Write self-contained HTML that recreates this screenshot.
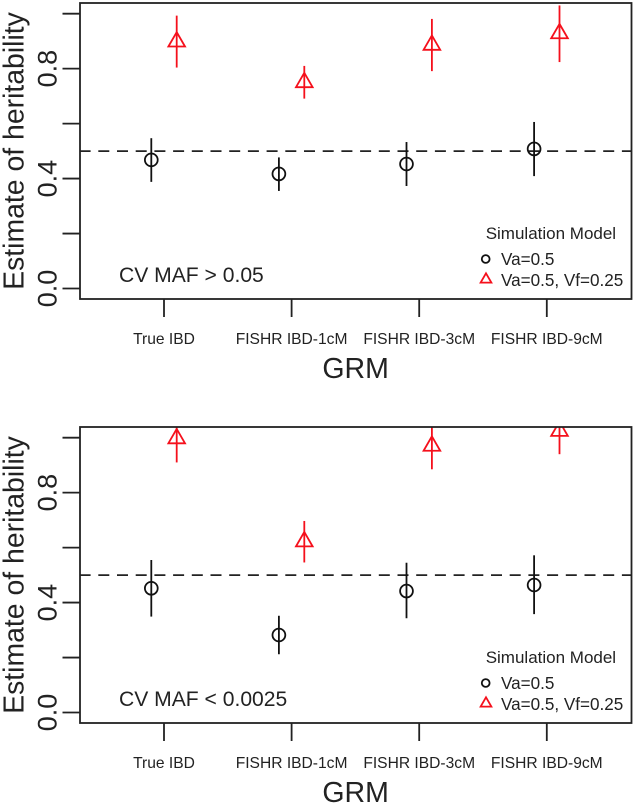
<!DOCTYPE html>
<html lang="en">
<head>
<meta charset="utf-8">
<title>Estimate of heritability by GRM</title>
<style>
html,body{margin:0;padding:0;background:#fff;width:634px;height:804px;overflow:hidden}
svg{display:block;font-family:"Liberation Sans",Arial,sans-serif}
text{fill:#222}
</style>
</head>
<body>
<svg id="chart" width="634" height="804" viewBox="0 0 634 804" xmlns="http://www.w3.org/2000/svg"></svg>
<script>
var categories = ["True IBD", "FISHR IBD-1cM", "FISHR IBD-3cM", "FISHR IBD-9cM"];
var yTickValues = [0, 0.2, 0.4, 0.6, 0.8, 1.0];
var yTickLabels = ["0.0", "", "0.4", "", "0.8", ""];
var referenceValue = 0.5;
var seriesNames = ["Va=0.5", "Va=0.5, Vf=0.25"];
var panelLabels = ["CV MAF > 0.05", "CV MAF < 0.0025"];

var panel1Va = [0.468, 0.417, 0.453, 0.508];
var panel1VaLower = [0.388, 0.355, 0.373, 0.409];
var panel1VaUpper = [0.547, 0.477, 0.533, 0.606];
var panel1VaVf = [0.898, 0.750, 0.886, 0.928];
var panel1VaVfLower = [0.804, 0.691, 0.791, 0.824];
var panel1VaVfUpper = [0.993, 0.810, 0.981, 1.030];

var panel2Va = [0.452, 0.282, 0.442, 0.464];
var panel2VaLower = [0.349, 0.212, 0.343, 0.358];
var panel2VaUpper = [0.555, 0.352, 0.545, 0.572];
var panel2VaVf = [0.997, 0.622, 0.970, 1.024];
var panel2VaVfLower = [0.910, 0.546, 0.885, 0.940];
var panel2VaVfUpper = [1.085, 0.697, 1.055, 1.108];

var NS = "http://www.w3.org/2000/svg";
var svg = document.getElementById("chart");
var INK = "#222";
var RED = "#f5101c";

function make(parent, tag, attrs, content) {
  var el = document.createElementNS(NS, tag);
  for (var k in attrs) { el.setAttribute(k, attrs[k]); }
  if (content !== undefined) { el.textContent = content; }
  parent.appendChild(el);
  return el;
}
function xScale(i, offset) { return 164 + 127.6 * i + offset; }
function yScale(v, dy) { return 288.5 + dy - 274.8 * v; }

function triPoints(cx, cy, r) {
  var xc = r * 0.866;
  return cx + "," + (cy - r) + " " + (cx + xc) + "," + (cy + r / 2) + " " + (cx - xc) + "," + (cy + r / 2);
}

function drawPanel(idx, dy, va, vaLo, vaHi, vf, vfLo, vfHi) {
  var g = make(svg, "g", {});
  
  

  var clipId = "plot-clip-" + idx;
  var defs = make(g, "defs", {});
  var clip = make(defs, "clipPath", { id: clipId });
  make(clip, "rect", { x: 80, y: 3 + dy, width: 551.5, height: 296 });

  var plot = make(g, "g", { "clip-path": "url(#" + clipId + ")" });
  
  

  var ref = make(plot, "line", {
    x1: 79.6, x2: 631.5, y1: yScale(referenceValue, dy), y2: yScale(referenceValue, dy),
    stroke: INK, "stroke-width": 1.8, "stroke-dasharray": "11 7.7"
  });
  
  

  for (var i = 0; i < categories.length; i++) {
    var bx = xScale(i, -12.7);
    var errA = make(plot, "line", { x1: bx, x2: bx, y1: yScale(vaLo[i], dy), y2: yScale(vaHi[i], dy), stroke: "#111", "stroke-width": 1.8 });
    
    
    var pointA = make(plot, "circle", { cx: bx, cy: yScale(va[i], dy), r: 6.4, fill: "none", stroke: "#111", "stroke-width": 1.8 });
    
    

    var rx = xScale(i, 12.7);
    var errB = make(plot, "line", { x1: rx, x2: rx, y1: yScale(vfLo[i], dy), y2: yScale(vfHi[i], dy), stroke: RED, "stroke-width": 1.8 });
    
    
    var pointB = make(plot, "polygon", { points: triPoints(rx, yScale(vf[i], dy), 9.6), fill: "none", stroke: RED, "stroke-width": 1.8 });
    
    
  }

  var box = make(g, "rect", { x: 80, y: 3 + dy, width: 551.5, height: 296, fill: "none", stroke: INK, "stroke-width": 1.8 });
  
  

  for (var t = 0; t < yTickValues.length; t++) {
    var ty = yScale(yTickValues[t], dy);
    var tick = make(g, "line", { x1: 62.5, x2: 80, y1: ty, y2: ty, stroke: INK, "stroke-width": 1.8 });
    
    
    if (yTickLabels[t]) {
      var lab = make(g, "text", { transform: "translate(56.5 " + ty + ") rotate(-90)", "text-anchor": "middle", "font-size": 27 }, yTickLabels[t]);
      
      
    }
  }

  for (var c = 0; c < categories.length; c++) {
    var cx = xScale(c, 0);
    var xt = make(g, "line", { x1: cx, x2: cx, y1: 299 + dy, y2: 317 + dy, stroke: INK, "stroke-width": 1.8 });
    
    
    var xl = make(g, "text", { x: cx, y: 344 + dy, "text-anchor": "middle", "font-size": 15.6 }, categories[c]);
    
    
  }

  var yTitle = make(g, "text", { transform: "translate(23.5 " + (151 + dy) + ") rotate(-90)", "text-anchor": "middle", "font-size": 28.4 }, "Estimate of heritability");
  
  

  var xTitle = make(g, "text", { x: 355.6, y: 378 + dy, "text-anchor": "middle", "font-size": 28.5 }, "GRM");
  
  

  var note = make(g, "text", { x: 119, y: 282 + dy, "font-size": 21.1 }, panelLabels[idx]);
  
  

  var legend = make(g, "g", {});
  
  

  var legendTitle = make(legend, "text", { x: 485.7, y: 239 + dy, "font-size": 17 }, "Simulation Model");
  
  

  var keyA = make(legend, "circle", { cx: 485.7, cy: 259 + dy, r: 3.9, fill: "none", stroke: "#111", "stroke-width": 1.8 });
  
  
  var textA = make(legend, "text", { x: 501, y: 265 + dy, "font-size": 17.1 }, seriesNames[0]);
  
  

  var keyB = make(legend, "polygon", { points: triPoints(486, 279.5 + dy, 6.2), fill: "none", stroke: RED, "stroke-width": 1.8 });
  
  
  var textB = make(legend, "text", { x: 501, y: 286 + dy, "font-size": 17.1 }, seriesNames[1]);
  
  
}

drawPanel(0, 0, panel1Va, panel1VaLower, panel1VaUpper, panel1VaVf, panel1VaVfLower, panel1VaVfUpper);
drawPanel(1, 424, panel2Va, panel2VaLower, panel2VaUpper, panel2VaVf, panel2VaVfLower, panel2VaVfUpper);
</script>
</body>
</html>
